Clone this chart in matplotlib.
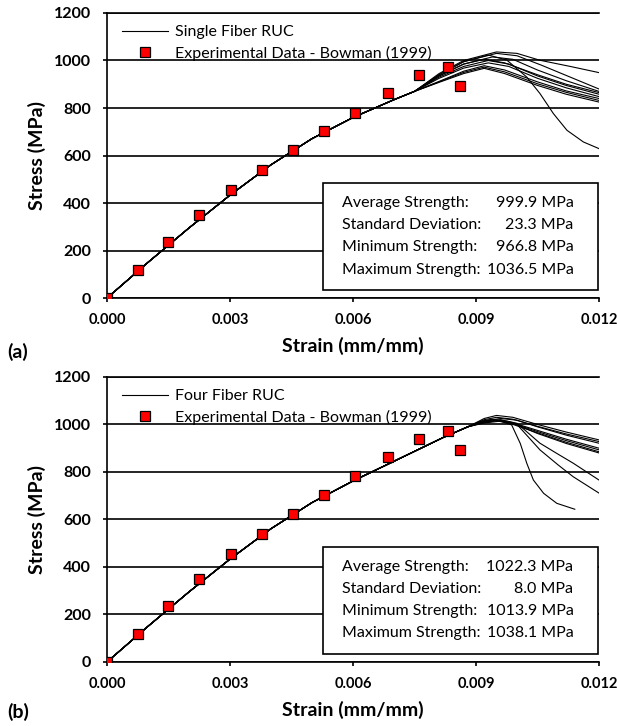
import matplotlib
matplotlib.use("Agg")
import matplotlib.pyplot as plt
from matplotlib.patches import Rectangle

plt.rcParams["font.family"] = ["Lato", "DejaVu Sans"]

# experimental data - Bowman (1999), same in both panels
EXP_STRAIN = [0.0, 0.00075, 0.0015, 0.00225, 0.00302, 0.00378, 0.00453,
              0.00529, 0.00605, 0.00685, 0.00761, 0.00831, 0.00862]
EXP_STRESS = [0, 119, 237, 350, 455, 540, 623, 705, 781, 862, 939, 974, 891]

# (a) single fiber RUC: shared loading branch, then one tail per run
RISE_A_STRAIN = [0.0, 0.001, 0.002, 0.003, 0.004, 0.005, 0.006, 0.007, 0.0075]
RISE_A_STRESS = [0, 150, 295, 433, 561, 671, 760, 835, 870]
TAIL_A_STRAIN = [
    [0.0081, 0.0087, 0.0092, 0.0097, 0.0105, 0.0112, 0.012],
    [0.0081, 0.0087, 0.0092, 0.0097, 0.0105, 0.0112, 0.012],
    [0.0081, 0.0087, 0.0092, 0.0097, 0.0105, 0.0112, 0.012],
    [0.0081, 0.0087, 0.0093, 0.0098, 0.0105, 0.0112, 0.012],
    [0.0081, 0.0087, 0.0093, 0.0098, 0.0105, 0.0112, 0.012],
    [0.0081, 0.0087, 0.0092, 0.0097, 0.0105, 0.0112, 0.012],
    [0.0081, 0.0087, 0.0094, 0.0099, 0.0105, 0.0112, 0.012],
    [0.0081, 0.0087, 0.0093, 0.00975, 0.01024, 0.01056, 0.01089, 0.01122, 0.01162, 0.012],
    [0.0081, 0.0087, 0.0095, 0.0100, 0.0106, 0.0113, 0.012],
    [0.0081, 0.0087, 0.0095, 0.0100, 0.01056, 0.0113, 0.012],
]
TAIL_A_STRESS = [
    [908, 945, 967, 945, 895, 858, 825],
    [910, 950, 972, 952, 902, 866, 832],
    [912, 955, 978, 960, 910, 872, 840],
    [925, 968, 990, 975, 925, 885, 848],
    [930, 975, 1000, 985, 935, 895, 858],
    [935, 985, 1005, 990, 940, 900, 865],
    [935, 985, 1015, 1005, 960, 915, 870],
    [940, 995, 1023, 1002, 930, 861, 776, 706, 657, 629],
    [940, 995, 1030, 1020, 980, 930, 880],
    [945, 1000, 1036, 1030, 1001, 975, 949],
]

# (b) four fiber RUC
RISE_B_STRAIN = [0.0, 0.001, 0.002, 0.003, 0.004, 0.005, 0.006, 0.007, 0.0076, 0.0082, 0.0088]
RISE_B_STRESS = [0, 150, 295, 433, 561, 671, 762, 845, 895, 945, 990]
TAIL_B_STRAIN = [
    [0.0092, 0.0095, 0.0099, 0.0105, 0.0112, 0.012],
    [0.0092, 0.0095, 0.0099, 0.0105, 0.0112, 0.012],
    [0.0092, 0.0096, 0.0100, 0.0105, 0.0112, 0.012],
    [0.0091, 0.0094, 0.0098, 0.0105, 0.0112, 0.012],
    [0.0091, 0.0094, 0.0098, 0.0105, 0.0112, 0.012],
    [0.0091, 0.0094, 0.0098, 0.0105, 0.0112, 0.012],
    [0.0091, 0.0095, 0.0099, 0.0105, 0.0112, 0.012],
    [0.0092, 0.0096, 0.0100, 0.01056, 0.0110, 0.01137, 0.012],
    [0.0092, 0.0096, 0.0100, 0.01056, 0.0110, 0.01137, 0.012],
    [0.0092, 0.0096, 0.00987, 0.01008, 0.01024, 0.0104, 0.01065, 0.01097, 0.01141],
]
TAIL_B_STRESS = [
    [1025, 1038, 1030, 1000, 968, 935],
    [1020, 1030, 1022, 992, 960, 928],
    [1015, 1025, 1018, 990, 955, 921],
    [1012, 1022, 1012, 975, 938, 900],
    [1010, 1020, 1010, 970, 932, 893],
    [1008, 1018, 1006, 965, 925, 885],
    [1006, 1016, 1005, 962, 920, 880],
    [1010, 1020, 1005, 921, 875, 837, 766],
    [1008, 1018, 1000, 893, 830, 780, 711],
    [1006, 1014, 998, 920, 836, 766, 710, 668, 643],
]

STATS_LABELS = ["Average Strength:", "Standard Deviation:",
                "Minimum Strength:", "Maximum Strength:"]
STATS_A = ["999.9 MPa", "23.3 MPa", "966.8 MPa", "1036.5 MPa"]
STATS_B = ["1022.3 MPa", "8.0 MPa", "1013.9 MPa", "1038.1 MPa"]

X_TICKS = [0.0, 0.003, 0.006, 0.009, 0.012]
Y_TICKS = [0, 200, 400, 600, 800, 1000, 1200]


def draw_panel(ax, rise_x, rise_y, tails_x, tails_y, model_label, stats):
    for i, (tx, ty) in enumerate(zip(tails_x, tails_y)):
        ax.plot(rise_x + tx, rise_y + ty, color="black", lw=0.8,
                label=model_label if i == 0 else None, zorder=3)
    ax.plot(EXP_STRAIN, EXP_STRESS, ls="none", marker="s", ms=6.5,
            mfc="#ff0000", mec="black", mew=0.9, zorder=4,
            label="Experimental Data - Bowman (1999)")

    ax.set_xlim(0, 0.012)
    ax.set_ylim(0, 1200)
    ax.set_xticks(X_TICKS)
    ax.set_xticklabels([f"{t:.3f}" for t in X_TICKS])
    ax.set_yticks(Y_TICKS)
    ax.set_yticklabels([str(t) for t in Y_TICKS])
    for lab in ax.get_xticklabels() + ax.get_yticklabels():
        lab.set_fontweight("bold")
    ax.tick_params(axis="both", direction="out", length=3, width=1.2)
    ax.tick_params(axis="y", pad=8.5, labelsize=11.5)
    ax.tick_params(axis="x", pad=8, labelsize=10.5)
    ax.grid(axis="y", color="black", lw=1.2)
    ax.set_axisbelow(True)
    ax.spines["top"].set_visible(False)
    ax.spines["right"].set_visible(False)
    for s in ("left", "bottom"):
        ax.spines[s].set_linewidth(1.2)
    ax.axhline(1200, color="black", lw=1.2, clip_on=False)

    ax.set_xlabel("Strain (mm/mm)", fontsize=14, fontweight="bold", labelpad=7)
    ax.set_ylabel("Stress (MPa)", fontsize=14, fontweight="bold", labelpad=6)

    ax.legend(loc="upper left", bbox_to_anchor=(0.03, 0.958), frameon=False,
              fontsize=11.5, handlelength=2.9, handletextpad=0.45,
              labelspacing=0.4, borderpad=0, borderaxespad=0)

    ax.add_patch(Rectangle((0.439, 0.027), 0.559, 0.375, transform=ax.transAxes,
                           facecolor="white", edgecolor="black", lw=1.2, zorder=5))
    for i, (lab, val) in enumerate(zip(STATS_LABELS, stats)):
        y = 0.334 - i * 0.078
        ax.text(0.477, y, lab, transform=ax.transAxes, fontsize=11.5,
                va="center", ha="left", zorder=6)
        ax.text(0.948, y, val, transform=ax.transAxes, fontsize=11.5,
                va="center", ha="right", zorder=6)


def main():
    fig = plt.figure(figsize=(6.17, 7.26), dpi=100)
    ax_a = fig.add_axes([0.1734, 0.5895, 0.7974, 0.3926])
    ax_b = fig.add_axes([0.1734, 0.0882, 0.7974, 0.3926])

    draw_panel(ax_a, RISE_A_STRAIN, RISE_A_STRESS, TAIL_A_STRAIN, TAIL_A_STRESS,
               "Single Fiber RUC", STATS_A)
    draw_panel(ax_b, RISE_B_STRAIN, RISE_B_STRESS, TAIL_B_STRAIN, TAIL_B_STRESS,
               "Four Fiber RUC", STATS_B)

    fig.text(0.011, 0.515, "(a)", fontsize=14, fontweight="bold", va="center")
    fig.text(0.011, 0.019, "(b)", fontsize=14, fontweight="bold", va="center")

    fig.savefig("out.png", dpi=100)
    plt.close(fig)


if __name__ == "__main__":
    main()
